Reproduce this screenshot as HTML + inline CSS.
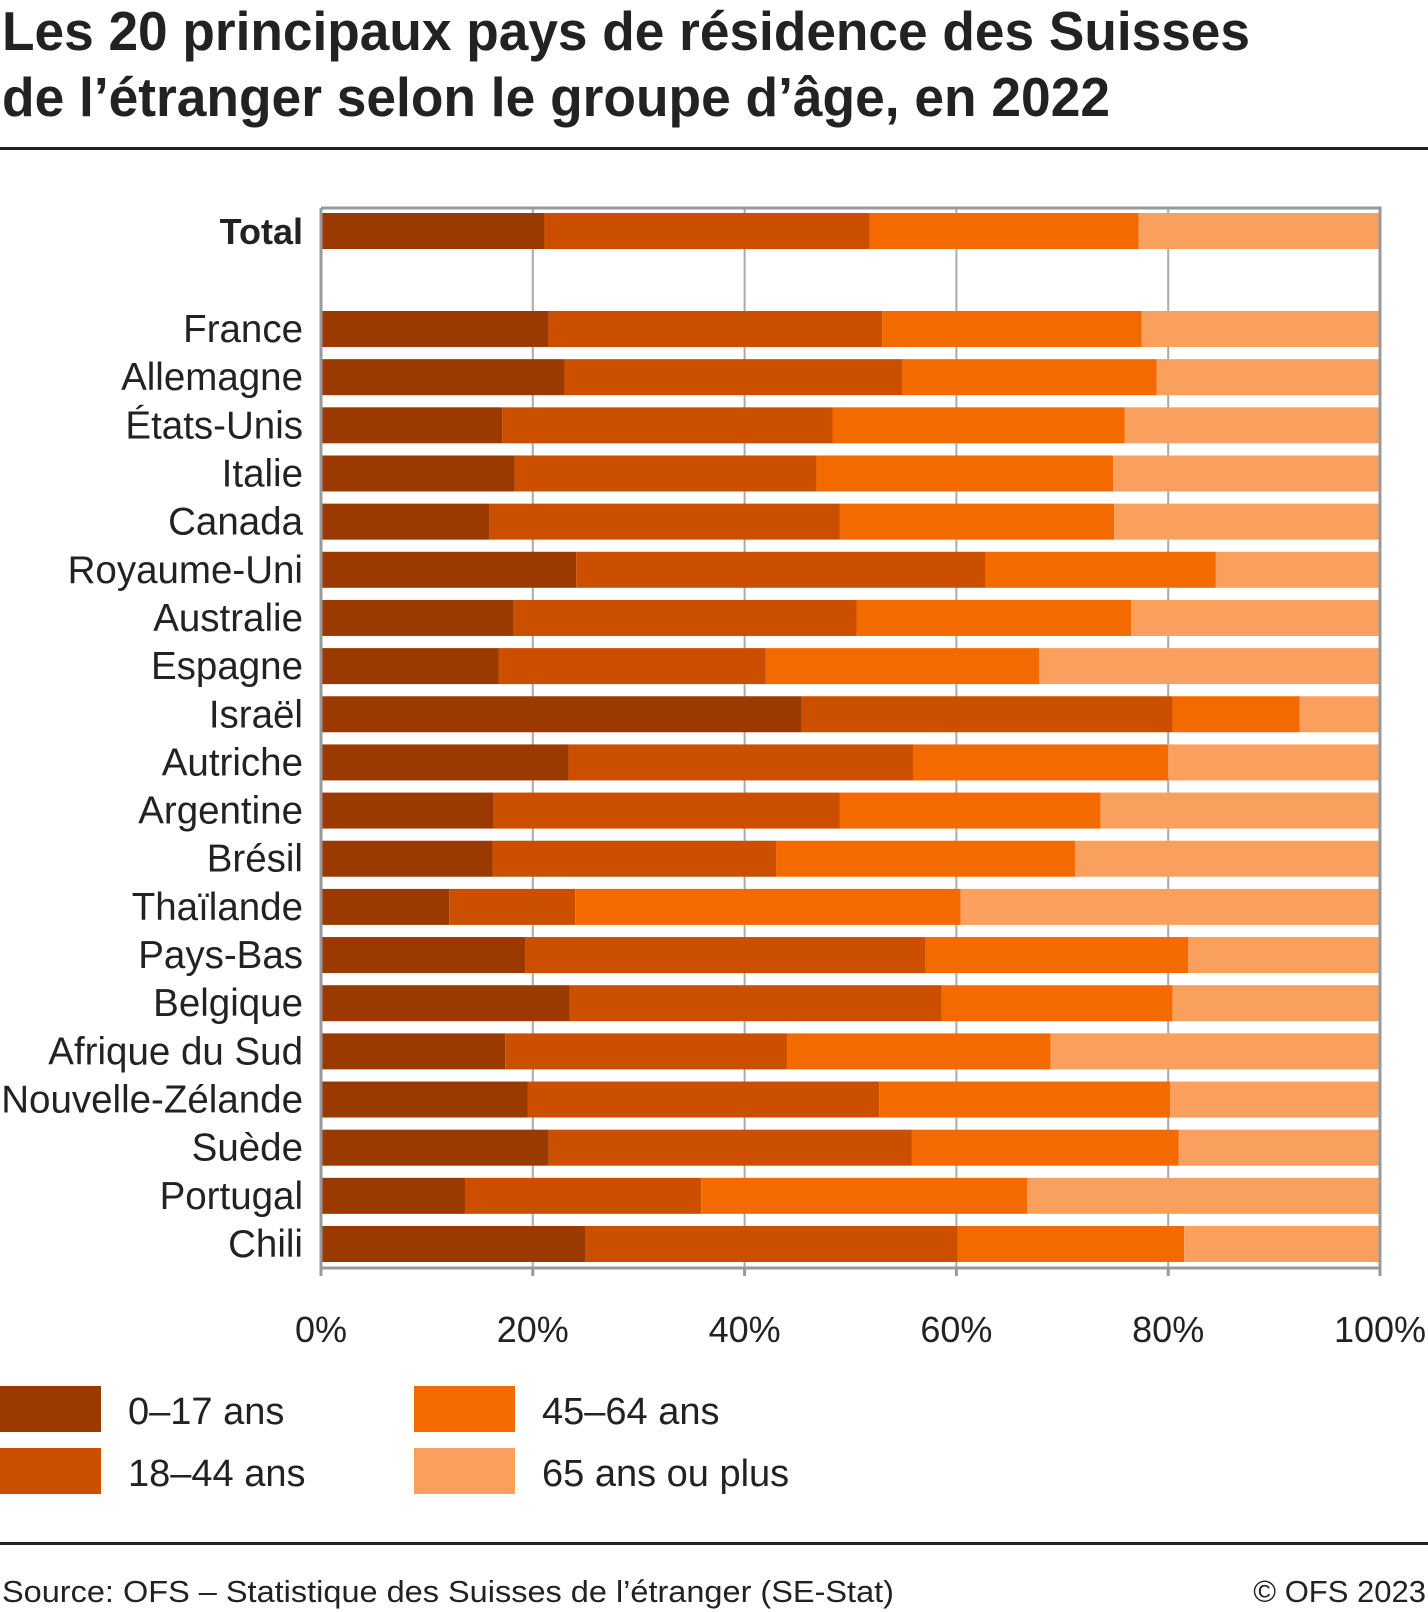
<!DOCTYPE html>
<html><head><meta charset="utf-8"><style>
html,body{margin:0;padding:0;background:#fff;}
svg{display:block;}
text{font-family:"Liberation Sans Narrow","Liberation Sans",sans-serif;fill:#222;}
</style></head><body>
<svg id="chart" width="1428" height="1612" viewBox="0 0 1428 1612" xmlns="http://www.w3.org/2000/svg">
<text x="2" y="50" font-size="55" font-weight="bold" textLength="1248" lengthAdjust="spacingAndGlyphs">Les 20 principaux pays de résidence des Suisses</text>
<text x="2" y="116" font-size="55" font-weight="bold" textLength="1108" lengthAdjust="spacingAndGlyphs">de l’étranger selon le groupe d’âge, en 2022</text>
<rect x="0" y="147" width="1428" height="3" fill="#222"/>
<g id="plot"></g>
<g id="legend"></g>
<rect x="0" y="1542" width="1428" height="3" fill="#222"/>
<text x="2" y="1602" font-size="31" textLength="892" lengthAdjust="spacingAndGlyphs" fill="#333">Source: OFS – Statistique des Suisses de l’étranger (SE-Stat)</text>
<text x="1426" y="1602" font-size="31" text-anchor="end" fill="#333">© OFS 2023</text>
</svg>
<script>
const categories = ["Total","France","Allemagne","États-Unis","Italie","Canada","Royaume-Uni","Australie","Espagne","Israël","Autriche","Argentine","Brésil","Thaïlande","Pays-Bas","Belgique","Afrique du Sud","Nouvelle-Zélande","Suède","Portugal","Chili"];
const age0_17 = [21.1,21.5,23.0,17.1,18.3,15.9,24.1,18.2,16.8,45.4,23.4,16.3,16.2,12.1,19.3,23.5,17.4,19.5,21.5,13.6,25.0];
const age18_44 = [30.7,31.5,31.9,31.2,28.5,33.1,38.6,32.4,25.2,35.0,32.5,32.7,26.8,11.9,37.8,35.1,26.6,33.2,34.3,22.3,35.1];
const age45_64 = [25.4,24.5,24.0,27.6,28.0,25.9,21.8,25.9,25.8,12.0,24.1,24.6,28.2,36.4,24.8,21.8,24.9,27.5,25.2,30.8,21.4];
const age65plus = [22.8,22.5,21.1,24.1,25.2,25.1,15.5,23.5,32.2,7.6,20.0,26.4,28.8,39.6,18.1,19.6,31.1,19.8,19.0,33.3,18.5];
const seriesNames = ["0–17 ans","18–44 ans","45–64 ans","65 ans ou plus"];
const tickValues = [0,20,40,60,80,100];
const tickLabels = ["0%","20%","40%","60%","80%","100%"];

const NS="http://www.w3.org/2000/svg";
const colors=["#9a3a00","#cc4f00","#f36a00","#f9a05e"];
const X0=321, X1=1380, TOP=208, BOT=1268;
function xs(v){return X0+(X1-X0)*v/100;}
function rowY(i){return i===0?213:311+(i-1)*(1226-311)/19;}
const BH=36;
function el(tag,attrs,parent){const e=document.createElementNS(NS,tag);for(const k in attrs)e.setAttribute(k,attrs[k]);parent.appendChild(e);return e;}
const plot=document.getElementById('plot');
tickValues.forEach((t,i)=>{
  if(t>0&&t<100){const g=el('line',{x1:xs(t),x2:xs(t),y1:TOP,y2:BOT,stroke:'#aaa','stroke-width':2},plot);
  
  }
  const tk=el('line',{x1:xs(t),x2:xs(t),y1:BOT,y2:BOT+8,stroke:'#999','stroke-width':3},plot);
  
  
  const tl=el('text',{x:xs(t),y:1342,'font-size':36,'text-anchor':'middle',fill:'#333'},plot);
  tl.textContent=tickLabels[i];
  
  
});
const series=[age0_17,age18_44,age45_64,age65plus];
categories.forEach((c,i)=>{
  const y=rowY(i);let acc=0;
  series.forEach((s,k)=>{
    const r=el('rect',{x:xs(acc),y:y,width:xs(acc+s[i])-xs(acc),height:BH,fill:colors[k]},plot);
    
    
    acc+=s[i];
  });
  const t=el('text',{x:303,y:y+BH/2+13,'font-size':i===0?36:38.5,'text-anchor':'end',fill:'#333'},plot);
  if(i===0){t.setAttribute('font-weight','bold');t.setAttribute('fill','#222');}
  t.textContent=c;
  
  
});
const fr=el('path',{d:`M${X0} ${TOP} H${X1} V${BOT+8} M${X0} ${TOP} V${BOT+8} M${X0} ${BOT} H${X1}`,fill:'none',stroke:'#999','stroke-width':3},plot);


const lg=document.getElementById('legend');
const pos=[[0,1386],[0,1448],[414,1386],[414,1448]];
seriesNames.forEach((n,k)=>{
  const [lx,ly]=pos[k];
  const r=el('rect',{x:lx,y:ly,width:101,height:46,fill:colors[k]},lg);
  
  
  const t=el('text',{x:lx+128,y:ly+38,'font-size':38,fill:'#333'},lg);
  t.textContent=n;
  
  
});
</script>
</body></html>
